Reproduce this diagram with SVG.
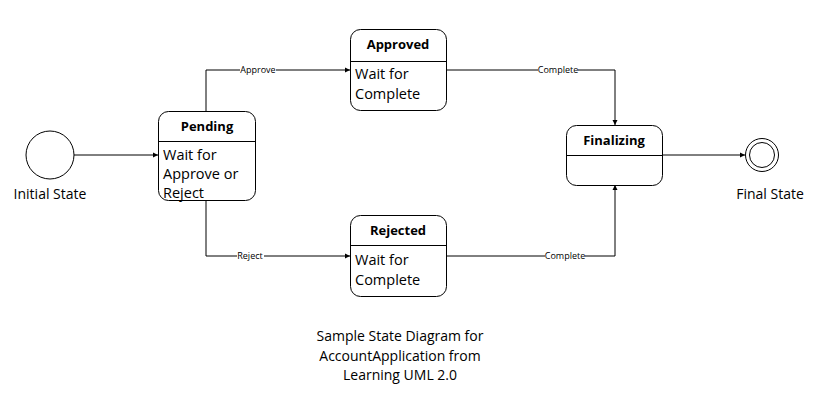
<svg xmlns="http://www.w3.org/2000/svg" width="817" height="401" viewBox="0 0 817 401">
<style>
text{font-family:"Open Sans","Liberation Sans",sans-serif;fill:#000}
.box{fill:#fff;stroke:#000;stroke-width:1}
.div{stroke:#000;stroke-width:1}
.title{font-size:13px;font-weight:bold;text-anchor:middle}
.body{font-size:14.5px}
.lbl{font-size:9px;text-anchor:middle}
.cap{font-size:14px;text-anchor:middle}
.edge{fill:none;stroke:#000;stroke-width:1;marker-end:url(#arr)}
.lblbg{fill:#fff}
</style>
<defs>
<marker id="arr" markerWidth="6" markerHeight="6" refX="5" refY="3" orient="auto" markerUnits="userSpaceOnUse">
<path d="M0,0.5 L5,3 L0,5.5 Z" fill="#000"/>
</marker>
</defs>
<rect width="817" height="401" fill="#fff"/>
<g id="connectors">
<path class="edge" d="M74,155 H158"/>
<path class="edge" d="M206,111 V70 H350"/>
<path class="edge" d="M206,200 V256 H350"/>
<path class="edge" d="M447,70 H615 V125"/>
<path class="edge" d="M447,256 H615 V185"/>
<path class="edge" d="M662,155 H745"/>
<rect class="lblbg" x="240" y="65" width="36" height="10"/>
<text class="lbl" x="258" y="73">Approve</text>
<rect class="lblbg" x="237" y="251" width="27" height="10"/>
<text class="lbl" x="250" y="259">Reject</text>
<rect class="lblbg" x="538" y="65" width="40" height="10"/>
<text class="lbl" x="558" y="73">Complete</text>
<rect class="lblbg" x="545" y="251" width="40" height="10"/>
<text class="lbl" x="565" y="259">Complete</text>
</g>
<g id="initial">
<circle cx="50" cy="155" r="24" fill="#fff" stroke="#000"/>
<text class="cap" x="50" y="199">Initial State</text>
</g>
<g id="pending">
<rect class="box" x="158.5" y="111.5" width="97" height="89" rx="10"/>
<line class="div" x1="158.5" y1="141.5" x2="255.5" y2="141.5"/>
<text class="title" x="207" y="131">Pending</text>
<text class="body" x="163" y="160">Wait for</text>
<text class="body" x="163" y="179">Approve or</text>
<text class="body" x="163" y="198">Reject</text>
</g>
<g id="approved">
<rect class="box" x="350.5" y="29.5" width="96" height="81" rx="10"/>
<line class="div" x1="350.5" y1="61.5" x2="446.5" y2="61.5"/>
<text class="title" x="398" y="49">Approved</text>
<text class="body" x="355" y="79">Wait for</text>
<text class="body" x="355" y="99">Complete</text>
</g>
<g id="rejected">
<rect class="box" x="350.5" y="215.5" width="96" height="81" rx="10"/>
<line class="div" x1="350.5" y1="245.5" x2="446.5" y2="245.5"/>
<text class="title" x="398" y="235">Rejected</text>
<text class="body" x="355" y="265">Wait for</text>
<text class="body" x="355" y="285">Complete</text>
</g>
<g id="finalizing">
<rect class="box" x="566.5" y="125.5" width="96" height="60" rx="10"/>
<line class="div" x1="566.5" y1="155.5" x2="662.5" y2="155.5"/>
<text class="title" x="614" y="145">Finalizing</text>
</g>
<g id="final">
<circle cx="762" cy="155" r="16.5" fill="#fff" stroke="#000"/>
<circle cx="762" cy="155" r="12.5" fill="#fff" stroke="#000"/>
<text class="cap" x="770" y="199">Final State</text>
</g>
<g id="caption">
<text class="cap" x="400" y="341">Sample State Diagram for</text>
<text class="cap" x="400" y="361">AccountApplication from</text>
<text class="cap" x="400" y="380">Learning UML 2.0</text>
</g>
</svg>
